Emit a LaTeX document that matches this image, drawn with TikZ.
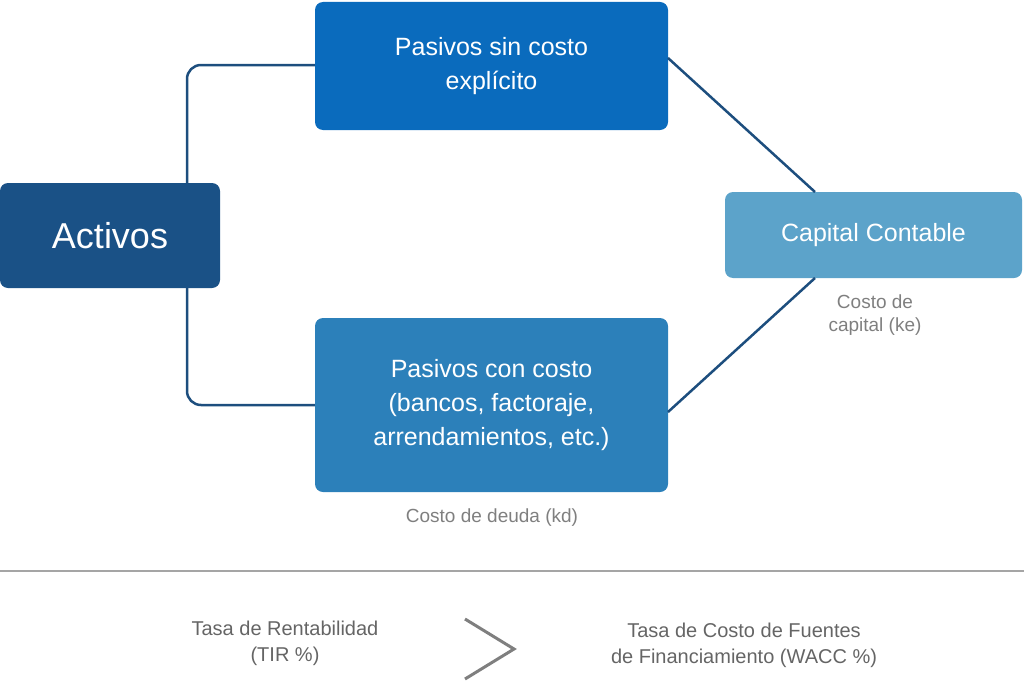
\documentclass[tikz,border=0pt]{standalone}
\usepackage{fontspec}
\setmainfont{Liberation Sans}
\definecolor{cA}{HTML}{1A5186}
\definecolor{cB}{HTML}{0A6BBD}
\definecolor{cC}{HTML}{2C80BA}
\definecolor{cD}{HTML}{5CA3CA}
\definecolor{ln}{HTML}{1D4E7E}
\definecolor{gt}{HTML}{7F7F7F}
\begin{document}
\begin{tikzpicture}[x=1pt,y=-1pt,
  box/.style={rounded corners=8pt,text=white,align=center,inner sep=0pt},
  conn/.style={ln,line width=2.5pt},
  lab/.style={text=gt,align=center,font=\fontsize{19}{23}\selectfont}]
\useasboundingbox (0,0) rectangle (1024,685);
\node[box,fill=cA,minimum width=220pt,minimum height=105pt,font=\fontsize{36}{40}\selectfont] (act) at (110,235.5) {Activos};
\node[box,fill=cB,minimum width=353pt,minimum height=128pt,font=\fontsize{25}{34}\selectfont] (ps) at (491.5,66) {Pasivos sin costo\\expl\'icito};
\node[box,fill=cC,minimum width=353pt,minimum height=174pt,font=\fontsize{25}{34}\selectfont] (pc) at (491.5,405) {Pasivos con costo\\(bancos, factoraje,\\arrendamientos, etc.)};
\node[box,fill=cD,minimum width=297pt,minimum height=86pt,font=\fontsize{25}{30}\selectfont] (cap) at (873.5,235) {Capital Contable};
\coordinate (a1) at (187,183); \coordinate (a2) at (187,288);
\draw[conn,rounded corners=14pt] (a1) -- (187,65) -- (ps.west|-0,65);
\draw[conn,rounded corners=14pt] (a2) -- (187,405) -- (pc.west|-0,405);
\coordinate (p1) at (668,58); \coordinate (c1) at (815,192);
\coordinate (p2) at (668,412); \coordinate (c2) at (815,278);
\draw[conn] (p1) -- (c1);
\draw[conn] (p2) -- (c2);
\node[lab] (ke) at (875,315) {Costo de\\capital (ke)};
\node[lab] (kd) at (492,518) {Costo de deuda (kd)};
\coordinate (l1) at (0,571); \coordinate (l2) at (1024,571);
\draw[gt!70,line width=2pt] (l1) -- (l2);
\node[lab,text=gt!80!black,font=\fontsize{20}{26}\selectfont] (tir) at (285,643) {Tasa de Rentabilidad\\(TIR \%)};
\node[lab,text=gt!80!black,font=\fontsize{20}{26}\selectfont] (wacc) at (744,645) {Tasa de Costo de Fuentes\\de Financiamiento (WACC \%)};
\coordinate (g1) at (465,619); \coordinate (g2) at (514,649); \coordinate (g3) at (465,679);
\draw[gt,line width=3pt] (g1) -- (g2) -- (g3);
\end{tikzpicture}
\end{document}
